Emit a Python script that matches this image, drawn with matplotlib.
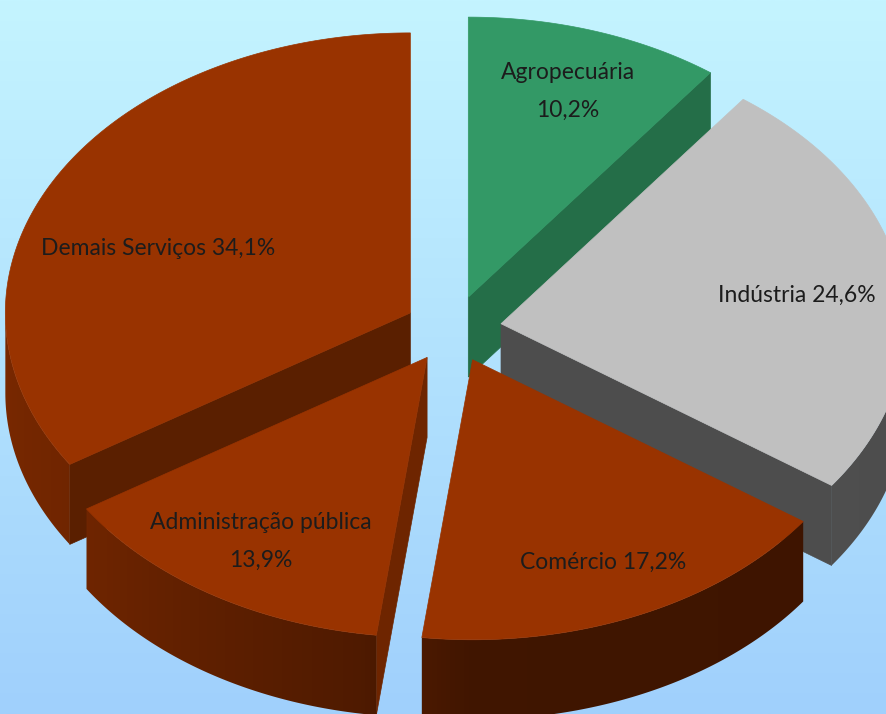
import numpy as np
import matplotlib
matplotlib.use("Agg")
import matplotlib.pyplot as plt
from matplotlib.colors import to_rgb

# --- data -------------------------------------------------------------
categories = ["Agropecuária", "Indústria", "Comércio", "Administração pública", "Demais Serviços"]
shares = [10.2, 24.6, 17.2, 13.9, 34.1]
label_sep = ["\n", " ", " ", "\n", " "]

# --- style ------------------------------------------------------------
top_colors = ["#339966", "#c0c0c0", "#993300", "#993300", "#993300"]
radial_colors = ["#246e48", "#4d4d4d", "#5c1f00", "#6e2500", "#5a1f00"]
label_r = [0.78, 0.74, 0.80, 0.77, 0.71]
label_dy = [2, 4, -2, 2, 31]

# projected pie geometry (pixel units, y grows downward)
cx, cy = 453, 329
rx, ry = 405, 280
depth = 80
explode = 0.12

W, H = 886, 714
fig = plt.figure(figsize=(W / 100, H / 100), dpi=100)
ax = fig.add_axes([0, 0, 1, 1])
ax.set_xlim(0, W)
ax.set_ylim(H, 0)
ax.axis("off")

# background vertical gradient
top_bg = np.array([196, 244, 255]) / 255
bot_bg = np.array([160, 208, 252]) / 255
t = np.linspace(0, 1, 256)[:, None, None]
grad = top_bg * (1 - t) + bot_bg * t
ax.imshow(grad, extent=[0, W, H, 0], aspect="auto", zorder=0)


def proj(theta, r, z, off):
    a = np.radians(theta)
    x = cx + off[0] + rx * r * np.sin(a)
    y = cy + off[1] - ry * r * np.cos(a) + depth * z
    return x, y


def side_shade(theta):
    return np.interp(theta, [90, 180, 190, 240, 270], [0.40, 0.42, 0.52, 0.74, 0.80])


total = sum(shares)
bounds = np.concatenate([[0], np.cumsum(shares)]) / total * 360
slices = []
for i in range(len(shares)):
    s, e = bounds[i], bounds[i + 1]
    m = (s + e) / 2
    off = (explode * rx * np.sin(np.radians(m)), -explode * ry * np.cos(np.radians(m)))
    slices.append((i, s, e, m, off))

# paint from the far side of the pie to the near side
order = sorted(slices, key=lambda q: -np.cos(np.radians(q[3])))
z = 1
for i, s, e, m, off in order:
    base = np.array(to_rgb(top_colors[i]))
    ax0, ay0 = proj(0, 0, 0, off)
    # radial walls facing the viewer
    for edge, normal in ((s, s - 90), (e, e + 90)):
        if np.cos(np.radians(normal)) < -1e-6:
            x1, y1 = proj(edge, 1, 0, off)
            x2, y2 = proj(edge, 1, 1, off)
            poly = [(ax0, ay0), (x1, y1), (x2, y2), (ax0, ay0 + depth)]
            ax.add_patch(plt.Polygon(poly, closed=True, facecolor=radial_colors[i],
                                     edgecolor=radial_colors[i], lw=0.5, zorder=z))
            z += 1
    # outer curved wall, only the front half is visible; shaded by angle
    lo, hi = max(s, 90), min(e, 270)
    if hi > lo:
        angs = np.linspace(lo, hi, 200)
        tx, ty = proj(angs, 1, 0, off)
        bx, by = proj(angs[::-1], 1, 1, off)
        wall = plt.Polygon(list(zip(tx, ty)) + list(zip(bx, by)), closed=True,
                           facecolor="none", edgecolor="none", zorder=z)
        ax.add_patch(wall)
        xmin, xmax = min(tx.min(), bx.min()), max(tx.max(), bx.max())
        ymin, ymax = min(ty.min(), by.min()), max(ty.max(), by.max())
        cols = np.linspace(xmin, xmax, 400)
        u = np.clip((cols - (cx + off[0])) / rx, -1, 1)
        theta_col = 180 - np.degrees(np.arcsin(u))
        shade = side_shade(theta_col)
        img = np.clip(base[None, None, :] * shade[None, :, None], 0, 1)
        im = ax.imshow(img, extent=[xmin - 1, xmax + 1, ymax + 1, ymin - 1],
                       aspect="auto", zorder=z, interpolation="bilinear")
        im.set_clip_path(wall)
        z += 1
    # top face
    arc = np.linspace(s, e, 200)
    xs, ys = proj(arc, 1, 0, off)
    poly = [(ax0, ay0)] + list(zip(xs, ys))
    ax.add_patch(plt.Polygon(poly, closed=True, facecolor=top_colors[i],
                             edgecolor=top_colors[i], lw=0.5, zorder=z))
    z += 1

ax.set_xlim(0, W)
ax.set_ylim(H, 0)

# value labels
for i, s, e, m, off in slices:
    lx, ly = proj(m, label_r[i], 0, off)
    txt = categories[i] + label_sep[i] + f"{shares[i]:.1f}".replace(".", ",") + "%"
    ax.text(lx, ly + label_dy[i], txt, ha="center", va="center", fontsize=16.5,
            family="Lato", color="#1c1c1c", linespacing=2.0, zorder=100)

fig.savefig("out.png", dpi=100)
